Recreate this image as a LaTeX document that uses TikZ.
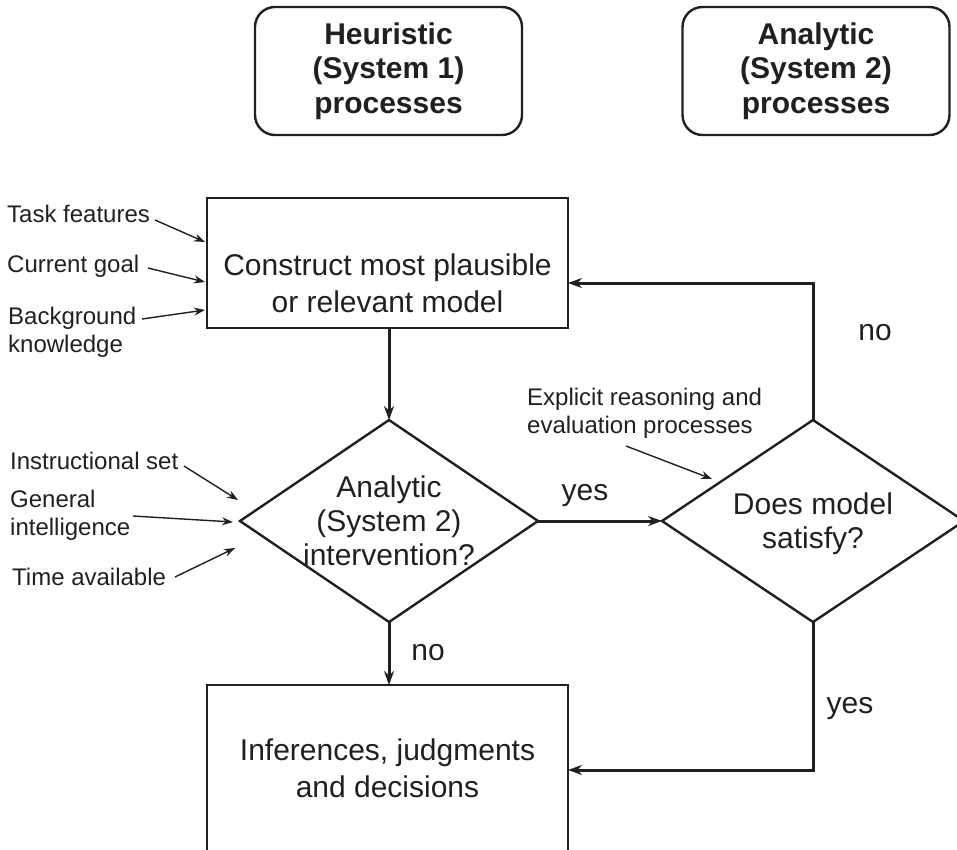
\documentclass[tikz,border=0pt]{standalone}
\usepackage{fontspec}
\setmainfont{Liberation Sans}
\usetikzlibrary{arrows.meta,shapes.geometric}
\definecolor{ink}{RGB}{35,31,32}
\begin{document}
\begin{tikzpicture}[x=1pt,y=-1pt,
  titlebox/.style={draw=ink, line width=2.4pt, rounded corners=20pt,
    minimum width=267pt, minimum height=128pt, inner sep=0pt, outer sep=0pt,
    align=center, text=ink, font=\fontsize{30}{34.5}\selectfont\bfseries},
  procbox/.style={draw=ink, line width=2.4pt, minimum width=361pt,
    inner sep=0pt, outer sep=0pt},
  decision/.style={diamond, draw=ink, line width=2.4pt, inner sep=0pt,
    outer sep=0pt, minimum height=202pt},
  maintext/.style={align=center, text=ink, inner sep=0pt,
    font=\fontsize{30}{37}\selectfont},
  dtext/.style={align=center, text=ink, inner sep=0pt,
    font=\fontsize{30}{34}\selectfont},
  branch/.style={text=ink, inner sep=0pt, anchor=base,
    font=\fontsize{30}{36}\selectfont},
  note/.style={align=left, text=ink, inner sep=0pt, anchor=base west,
    font=\fontsize{24}{28}\selectfont},
  flow/.style={draw=ink, line width=3pt, line join=miter,
    -{Stealth[length=14pt,width=10pt]}},
  feed/.style={draw=ink, line width=1.4pt,
    -{Stealth[length=11pt,width=8pt]}}]

\useasboundingbox (0,0) rectangle (957,849);
\clip (0,0) rectangle (957,849);

% system headers
\node[titlebox] (heur) at (388.5,71) {Heuristic\\(System 1)\\processes};
\node[titlebox] (anal) at (816,71) {Analytic\\(System 2)\\processes};

% process boxes
\node[procbox, minimum height=130pt] (construct) at (387.5,263) {};
\node[maintext] (constructtxt) at (387.5,283)
  {Construct most plausible\\or relevant model};

\node[procbox, minimum height=200pt] (output) at (387.5,785) {};
\node[maintext] (outputtxt) at (387.5,768)
  {Inferences, judgments\\and decisions};

% decisions
\node[decision, minimum width=298pt] (d1) at (389,521) {};
\node[dtext] (d1txt) at (389,521) {Analytic\\(System 2)\\intervention?};

\node[decision, minimum width=302pt] (d2) at (813,521) {};
\node[dtext] (d2txt) at (813,524) {Does model\\satisfy?};

% main flow
\coordinate (fbk) at (568,283);
\coordinate (yin) at (568,770);
\draw[flow] (construct.south -| d1.north) -- (d1.north);
\draw[flow] (d1.south) -- (d1.south |- output.north);
\draw[flow] (d1.east) -- (d2.west);
\draw[flow] (d2.north) |- (fbk);
\draw[flow] (d2.south) |- (yin);

\node[branch] (yes1) at (585,500) {yes};
\node[branch] (no1) at (428,660) {no};
\node[branch] (no2) at (875,340) {no};
\node[branch] (yes2) at (850,713) {yes};

% influences on model construction (base = last line's baseline)
\node[note] (task) at (7,222) {Task features};
\node[note] (goal) at (7,272) {Current goal};
\node[note] (know) at (8,352) {Background\\knowledge};
\coordinate (taskA) at (155,220);  \coordinate (taskB) at (205,242);
\coordinate (goalA) at (148,268);  \coordinate (goalB) at (205,282);
\coordinate (knowA) at (142,319);  \coordinate (knowB) at (205,310);
\draw[feed] (taskA) -- (taskB);
\draw[feed] (goalA) -- (goalB);
\draw[feed] (knowA) -- (knowB);

% influences on intervention
\node[note] (instr) at (10,469) {Instructional set};
\node[note] (intel) at (10,535) {General\\intelligence};
\node[note] (time) at (12,585) {Time available};
\coordinate (instrA) at (184,466); \coordinate (instrB) at (238,500);
\coordinate (intelA) at (133,516); \coordinate (intelB) at (233,522);
\coordinate (timeA) at (175,577);  \coordinate (timeB) at (235,548);
\draw[feed] (instrA) -- (instrB);
\draw[feed] (intelA) -- (intelB);
\draw[feed] (timeA) -- (timeB);

% explicit reasoning
\node[note] (expl) at (527,433) {Explicit reasoning and\\evaluation processes};
\coordinate (explA) at (626,446); \coordinate (explB) at (712,479);
\draw[feed] (explA) -- (explB);

\end{tikzpicture}
\end{document}
